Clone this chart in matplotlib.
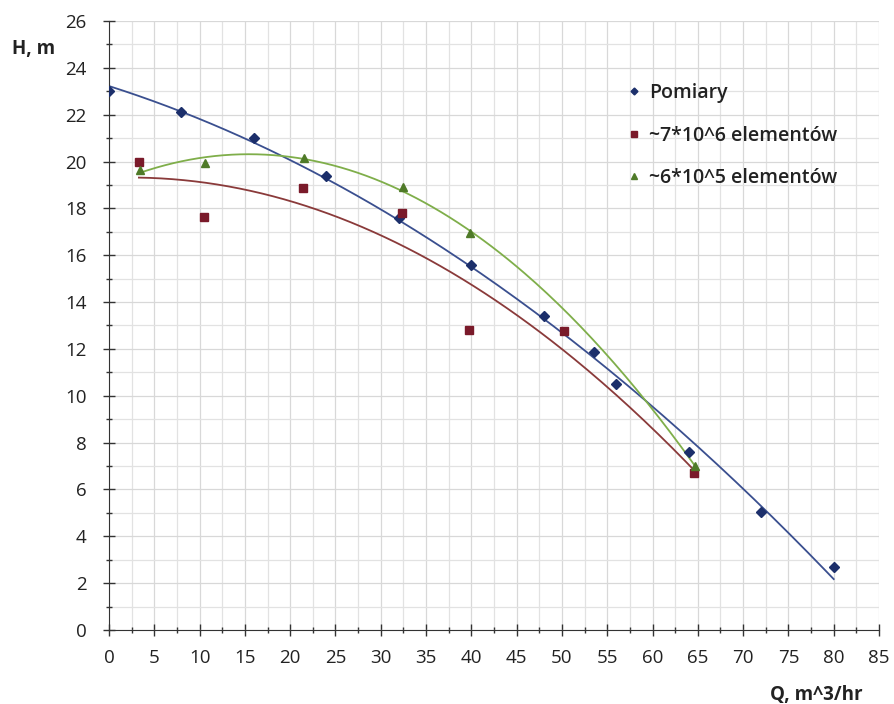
import numpy as np
import matplotlib
matplotlib.use("Agg")
import matplotlib.pyplot as plt
from matplotlib.ticker import MultipleLocator

plt.rcParams['font.family'] = ['Open Sans', 'DejaVu Sans']

# Data
q_pom = [0, 8, 16, 24, 32, 40, 48, 53.5, 56, 64, 72, 80]
h_pom = [23.0, 22.1, 21.0, 19.4, 17.6, 15.6, 13.4, 11.85, 10.5, 7.6, 5.05, 2.7]

q_7e6 = [3.3, 10.5, 21.4, 32.3, 39.7, 50.2, 64.6]
h_7e6 = [20.0, 17.65, 18.85, 17.8, 12.8, 12.75, 6.7]

q_6e5 = [3.4, 10.6, 21.5, 32.4, 39.8, 64.7]
h_6e5 = [19.65, 19.95, 20.15, 18.9, 16.95, 7.0]

labels = ["Pomiary", "~7*10^6 elementów", "~6*10^5 elementów"]

c_pom = "#1c2f6b"
c_pom_line = "#3a4f8f"
c_7e6 = "#7a1a2a"
c_7e6_line = "#8a3a3a"
c_6e5 = "#4f7a28"
c_6e5_line = "#7fae4a"

fig = plt.figure(figsize=(8.95, 7.04), dpi=100)
ax = fig.add_axes([0.1218, 0.1051, 0.8603, 0.8651])

# trendlines (polynomial fits, Excel-like)
for qx, hy, col in [(q_pom, h_pom, c_pom_line), (q_7e6, h_7e6, c_7e6_line), (q_6e5, h_6e5, c_6e5_line)]:
    p = np.polyfit(qx, hy, 2)
    xs = np.linspace(min(qx), max(qx), 200)
    ax.plot(xs, np.polyval(p, xs), color=col, lw=1.3, zorder=2)

ax.plot(q_pom, h_pom, 'D', color=c_pom, ms=5, ls='none', label=labels[0], zorder=3)
ax.plot(q_7e6, h_7e6, 's', color=c_7e6, ms=6, ls='none', label=labels[1], zorder=3)
ax.plot(q_6e5, h_6e5, '^', color=c_6e5, ms=6, ls='none', label=labels[2], zorder=3)

ax.set_xlim(0, 85)
ax.set_ylim(0, 26)
ax.xaxis.set_major_locator(MultipleLocator(5))
ax.xaxis.set_minor_locator(MultipleLocator(2.5))
ax.yaxis.set_major_locator(MultipleLocator(2))
ax.yaxis.set_minor_locator(MultipleLocator(1))
ax.grid(True, which='major', color='#d8d8d8', lw=0.9)
ax.grid(True, which='minor', color='#e2e2e2', lw=0.9)
ax.set_axisbelow(True)

for s in ['top', 'right']:
    ax.spines[s].set_visible(False)
ax.spines['left'].set_color('#333333')
ax.spines['bottom'].set_color('#333333')
ax.tick_params(which='major', direction='inout', length=8, width=1, colors='#333333', labelsize=13.5, labelcolor='#222222')
ax.tick_params(which='minor', direction='inout', length=4, width=1, colors='#333333')
ax.tick_params(axis='x', which='major', pad=10)
ax.tick_params(axis='y', which='major', pad=12)

leg = ax.legend(loc='upper left', bbox_to_anchor=(0.662, 0.911), frameon=False,
                fontsize=14, handletextpad=0.35, labelspacing=1.16, markerscale=0.7,
                handlelength=0.8, borderaxespad=0)
for t in leg.get_texts():
    t.set_fontweight('semibold')
    t.set_color('#222222')

fig.text(12/895, 1 - 54/704, "H, m", fontsize=13.5, fontweight='bold', color='#222222')
fig.text(863/895, 1 - 700/704, "Q, m^3/hr", fontsize=13.5, fontweight='bold', color='#222222', ha='right')

fig.savefig("out.png", dpi=100)
